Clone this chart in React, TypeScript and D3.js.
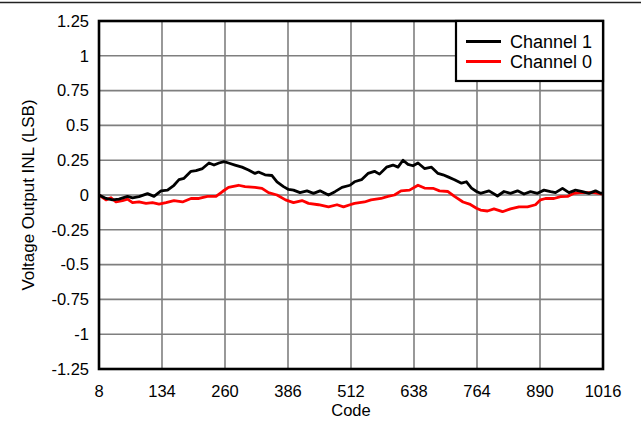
import React from "react";
import * as d3 from "d3";

const xTicks = [8, 134, 260, 386, 512, 638, 764, 890, 1016];
const yTicks = [1.25, 1, 0.75, 0.5, 0.25, 0, -0.25, -0.5, -0.75, -1, -1.25];
const yTickLabels = ["1.25", "1", "0.75", "0.5", "0.25", "0", "-0.25", "-0.5", "-0.75", "-1", "-1.25"];

const ch1Codes = [8, 22, 35, 48, 65, 75, 88, 105, 118, 132, 145, 158, 168, 178, 192, 202, 215, 228, 238, 248, 258, 267, 280, 294, 307, 320, 327, 340, 354, 364, 377, 387, 397, 410, 424, 437, 450, 467, 480, 494, 510, 519, 533, 546, 559, 569, 583, 596, 606, 616, 626, 636, 646, 659, 673, 686, 696, 706, 719, 733, 743, 753, 763, 771, 788, 805, 818, 831, 845, 858, 871, 885, 898, 911, 921, 935, 948, 961, 975, 988, 1001, 1011, 1016];
const ch1Values = [0.0, -0.025, -0.035, -0.03, -0.01, -0.02, -0.012, 0.01, -0.01, 0.03, 0.035, 0.07, 0.11, 0.12, 0.17, 0.175, 0.19, 0.23, 0.215, 0.23, 0.24, 0.23, 0.215, 0.2, 0.18, 0.155, 0.165, 0.145, 0.14, 0.095, 0.06, 0.04, 0.035, 0.017, 0.03, 0.012, 0.03, 0.0, 0.024, 0.055, 0.07, 0.095, 0.11, 0.155, 0.17, 0.15, 0.2, 0.215, 0.2, 0.25, 0.22, 0.21, 0.23, 0.19, 0.2, 0.155, 0.145, 0.13, 0.11, 0.085, 0.095, 0.05, 0.025, 0.012, 0.03, -0.007, 0.025, 0.012, 0.03, 0.007, 0.024, 0.012, 0.035, 0.024, 0.017, 0.048, 0.017, 0.035, 0.024, 0.012, 0.03, 0.012, 0.015];

const ch0Codes = [8, 22, 32, 42, 55, 65, 75, 88, 102, 115, 128, 142, 158, 175, 192, 208, 225, 242, 255, 267, 287, 300, 320, 334, 347, 364, 381, 397, 414, 427, 447, 467, 484, 497, 510, 519, 539, 552, 572, 586, 599, 612, 629, 646, 659, 676, 689, 706, 719, 736, 749, 763, 771, 785, 798, 815, 831, 848, 865, 881, 891, 901, 918, 931, 945, 958, 971, 985, 998, 1016];
const ch0Values = [0, -0.035, -0.02, -0.05, -0.04, -0.03, -0.055, -0.05, -0.06, -0.055, -0.065, -0.055, -0.04, -0.05, -0.025, -0.025, -0.01, -0.01, 0.025, 0.055, 0.07, 0.06, 0.055, 0.048, 0.017, 0, -0.035, -0.055, -0.04, -0.06, -0.07, -0.085, -0.07, -0.085, -0.07, -0.06, -0.05, -0.035, -0.025, -0.01, 0, 0.03, 0.035, 0.07, 0.05, 0.048, 0.03, 0.025, -0.01, -0.05, -0.065, -0.095, -0.108, -0.115, -0.1, -0.12, -0.1, -0.085, -0.085, -0.07, -0.035, -0.025, -0.025, -0.012, -0.01, 0.012, 0.017, 0.017, 0.017, 0.007];

const seriesNames = ["Channel 1", "Channel 0"];
const seriesColors = ["#000000", "#ff0000"];

const W = 641;
const H = 421;
const left = 99;
const right = 603;
const top = 21;
const bottom = 369;
const FONT = "'Liberation Sans', Arial, sans-serif";

export default function App() {
  const x = d3.scaleLinear().domain([8, 1016]).range([left, right]);
  const y = d3.scaleLinear().domain([-1.25, 1.25]).range([bottom, top]);
  const line = d3
    .line<[number, number]>()
    .x((d) => x(d[0]))
    .y((d) => y(d[1]));
  const ch1 = ch1Codes.map((c, i) => [c, ch1Values[i]] as [number, number]);
  const ch0 = ch0Codes.map((c, i) => [c, ch0Values[i]] as [number, number]);

  const legX = 456;
  const legY = top;
  const legW = right - legX;
  const legH = 60;

  return (
    <svg
      width={W}
      height={H}
      style={{ position: "absolute", left: 0, top: 0, background: "#fff" }}
      fontFamily={FONT}
    >
      <rect x={0} y={0} width={W} height={H} fill="#fff" />
      <line x1={0} x2={W} y1={2.5} y2={2.5} stroke="#222" strokeWidth={1.5} />
      {/* grid */}
      {xTicks.slice(1, -1).map((t) => (
        <line key={"gx" + t} x1={x(t)} x2={x(t)} y1={top} y2={bottom} stroke="#7f7f7f" strokeWidth={1.6} />
      ))}
      {yTicks.slice(1, -1).map((t) => (
        <line key={"gy" + t} x1={left} x2={right} y1={y(t)} y2={y(t)} stroke="#7f7f7f" strokeWidth={1.6} />
      ))}
      {/* series */}
      <path d={line(ch0) || ""} fill="none" stroke={seriesColors[1]} strokeWidth={2.8} strokeLinejoin="round" />
      <path d={line(ch1) || ""} fill="none" stroke={seriesColors[0]} strokeWidth={2.8} strokeLinejoin="round" />
      {/* border */}
      <rect x={left} y={top} width={right - left} height={bottom - top} fill="none" stroke="#000" strokeWidth={2.6} />
      {/* legend */}
      <rect x={legX} y={legY} width={legW} height={legH} fill="#fff" stroke="#000" strokeWidth={2.2} />
      {seriesNames.map((n, i) => (
        <g key={n}>
          <line x1={466} x2={501} y1={legY + 20.5 + i * 20} y2={legY + 20.5 + i * 20} stroke={seriesColors[i]} strokeWidth={2.8} />
          <text x={510} y={legY + 20.5 + i * 20} dy="0.35em" fontSize={18} fill="#000">
            {n}
          </text>
        </g>
      ))}
      {/* y tick labels */}
      {yTicks.map((t, i) => (
        <text key={"yl" + t} x={89} y={y(t)} dy="0.35em" textAnchor="end" fontSize={16.5} fill="#000">
          {yTickLabels[i]}
        </text>
      ))}
      {/* x tick labels */}
      {xTicks.map((t) => (
        <text key={"xl" + t} x={x(t)} y={397} textAnchor="middle" fontSize={16.5} fill="#000">
          {t}
        </text>
      ))}
      <text x={(left + right) / 2} y={416} textAnchor="middle" fontSize={16.5} fill="#000">
        Code
      </text>
      <text
        transform={`translate(34,${(top + bottom) / 2}) rotate(-90)`}
        textAnchor="middle"
        fontSize={17}
        fill="#000"
      >
        Voltage Output INL (LSB)
      </text>
    </svg>
  );
}
